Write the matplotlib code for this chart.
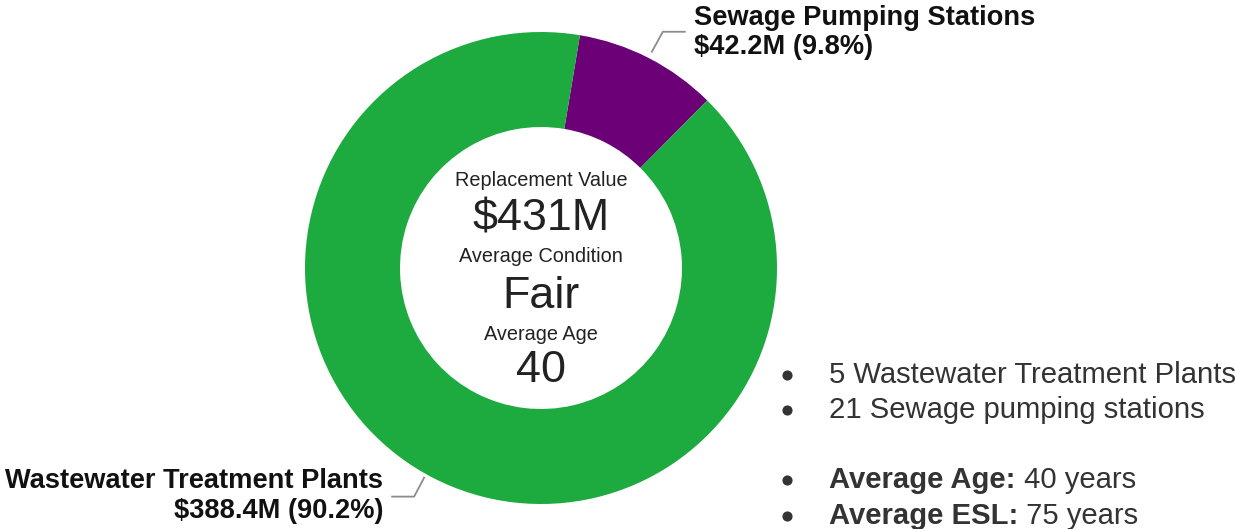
import numpy as np
import matplotlib
matplotlib.use("Agg")
import matplotlib.pyplot as plt

# ---- data ----
categories = ["Sewage Pumping Stations", "Wastewater Treatment Plants"]
values = [42.2, 388.4]
value_labels = ["$42.2M (9.8%)", "$388.4M (90.2%)"]
colors = ["#6B0077", "#1DAA3F"]
center_titles = ["Replacement Value", "Average Condition", "Average Age"]
center_values = ["$431M", "Fair", "40"]
bullets_plain = ["5 Wastewater Treatment Plants", "21 Sewage pumping stations"]
bullets_bold = [("Average Age:", " 40 years"), ("Average ESL:", " 75 years")]

W, H = 1235, 529
plt.rcParams['font.family'] = ['Liberation Sans', 'DejaVu Sans']
fig = plt.figure(figsize=(W / 100, H / 100), dpi=100)
ax = fig.add_axes([0, 0, 1, 1])

cx, cy = 541, H - 268
R = 236
ring = 95
wedges, _ = ax.pie(values, colors=colors, startangle=80.5, counterclock=False,
                   radius=R, center=(cx, cy),
                   wedgeprops=dict(width=ring, edgecolor='none'))
ax.set_xlim(0, W)
ax.set_ylim(0, H)
ax.set_aspect('equal')
ax.axis('off')

def py(y):
    return H - y

# center text
title_y = [181, 256, 334]
value_y = [219, 296, 371]
for t, y in zip(center_titles, title_y):
    ax.text(cx, py(y), t, ha='center', va='center', fontsize=14.3, color='#222222')
for v, y in zip(center_values, value_y):
    ax.text(cx, py(y), v, ha='center', va='center', fontsize=32.3, color='#222222')

# leader lines and labels
lc = '#8c8c8c'
w0 = wedges[0]
mid0 = np.deg2rad((w0.theta1 + w0.theta2) / 2)
sx, sy = cx + (R + 7) * np.cos(mid0), cy + (R + 7) * np.sin(mid0)
ax.plot([sx, sx + 11, sx + 33], [sy, sy + 20, sy + 20], color=lc, lw=1.3)
lab_kw = dict(fontsize=19.6, fontweight='bold', color='#111111', va='center')
ax.text(694, py(18), categories[0], ha='left', **lab_kw)
ax.text(694, py(47), value_labels[0], ha='left', **lab_kw)

w1 = wedges[1]
mid1 = np.deg2rad((w1.theta1 + w1.theta2) / 2 - 2)
sx, sy = cx + (R + 4) * np.cos(mid1), cy + (R + 4) * np.sin(mid1)
ax.plot([sx, sx - 10, sx - 32], [sy, sy - 19, sy - 19], color=lc, lw=1.3)
ax.text(383, py(481), categories[1], ha='right', **lab_kw)
ax.text(383, py(511), value_labels[1], ha='right', **lab_kw)

# bullets
tc = '#333333'
bx, tx = 787, 829
fs = 21.1
for t, y in zip(bullets_plain, [375, 410]):
    ax.plot([bx], [py(y)], 'o', ms=6.3, color=tc)
    ax.text(tx, py(y), t, ha='left', va='center', fontsize=fs, color=tc)
for (b, r), y in zip(bullets_bold, [480, 516]):
    ax.plot([bx], [py(y)], 'o', ms=6.3, color=tc)
    tb = ax.text(tx, py(y), b, ha='left', va='center', fontsize=fs, fontweight='bold', color=tc)
    ax.annotate(r, xy=(1, 0), xycoords=tb, ha='left', va='bottom', fontsize=fs, color=tc)

fig.savefig("out.png", dpi=100, facecolor='white')
